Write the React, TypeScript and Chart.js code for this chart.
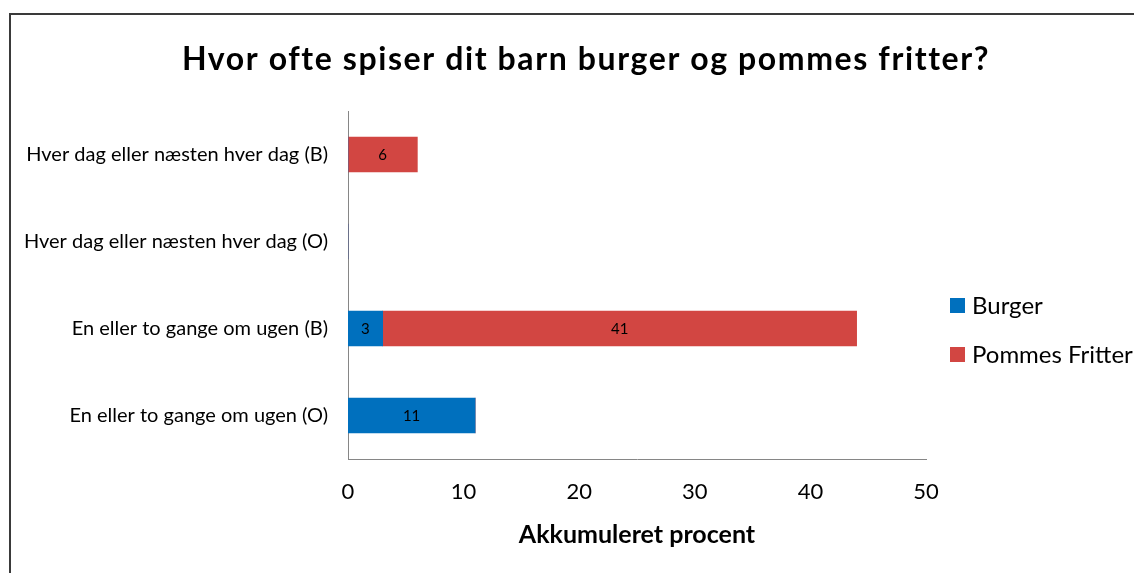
import React, { useEffect, useRef } from "react";
import { Chart, registerables } from "chart.js";

Chart.register(...registerables);

const categories = [
  "Hver dag eller næsten hver dag (B)",
  "Hver dag eller næsten hver dag (O)",
  "En eller to gange om ugen (B)",
  "En eller to gange om ugen (O)",
];
const burger = [0, 0, 3, 11];
const pommes = [6, 0, 41, 0];
const seriesNames = ["Burger", "Pommes Fritter"];
const xTicks = [0, 10, 20, 30, 40, 50];
const titleText = "Hvor ofte spiser dit barn burger og pommes fritter?";
const xTitle = "Akkumuleret procent";

const BLUE = "#0070BE";
const RED = "#D24642";
const FONT = "Lato, 'Open Sans', sans-serif";

const titleDraw = {
  id: "titleDraw",
  afterDraw(chart: any) {
    const ctx = chart.ctx;
    ctx.save();
    ctx.font = `bold 32px ${FONT}`;
    (ctx as any).letterSpacing = "1.6px";
    ctx.fillStyle = "#000";
    ctx.textAlign = "center";
    ctx.textBaseline = "middle";
    ctx.fillText(titleText, 586, 60);
    ctx.restore();
  },
};

const valueLabels = {
  id: "valueLabels",
  afterDatasetsDraw(chart: any) {
    const ctx = chart.ctx;
    ctx.save();
    ctx.font = `15px ${FONT}`;
    ctx.fillStyle = "#000";
    ctx.textAlign = "center";
    ctx.textBaseline = "middle";
    chart.data.datasets.forEach((ds: any, di: number) => {
      const meta = chart.getDatasetMeta(di);
      meta.data.forEach((el: any, i: number) => {
        const v = ds.data[i];
        if (!v) return;
        const p = el.getCenterPoint();
        ctx.fillText(String(v), p.x, p.y + 1);
      });
    });
    ctx.restore();
  },
};

const sideLegend = {
  id: "sideLegend",
  afterDraw(chart: any) {
    const ctx = chart.ctx;
    ctx.save();
    ctx.font = `24px ${FONT}`;
    ctx.textBaseline = "middle";
    ctx.textAlign = "left";
    const ys = [306, 355];
    chart.data.datasets.forEach((ds: any, i: number) => {
      const y = ys[i];
      ctx.fillStyle = ds.backgroundColor;
      ctx.fillRect(950, y - 8, 15, 15);
      ctx.fillStyle = "#000";
      ctx.fillText(ds.label, 972, y);
    });
    ctx.restore();
  },
};

export default function App() {
  const ref = useRef<HTMLCanvasElement>(null);
  useEffect(() => {
    if (!ref.current) return;
    const chart = new Chart(ref.current, {
      type: "bar",
      data: {
        labels: categories,
        datasets: [
          { label: seriesNames[0], data: burger, backgroundColor: BLUE, barThickness: 35 },
          { label: seriesNames[1], data: pommes, backgroundColor: RED, barThickness: 35 },
        ],
      },
      options: {
        responsive: false,
        animation: false,
        indexAxis: "y",
        layout: { padding: { left: 0, right: 244, top: 111, bottom: 0 } },
        plugins: {
          legend: { display: false },
          tooltip: { enabled: false },
          title: { display: false },
        },
        scales: {
          x: {
            stacked: true,
            min: 0,
            max: 50,
            afterBuildTicks(scale: any) {
              scale.ticks = xTicks.map((v) => ({ value: v }));
            },
            afterFit(scale: any) {
              scale.height = 114;
            },
            grid: { display: false, drawTicks: false },
            border: { display: true, color: "#868686", width: 1 },
            ticks: {
              color: "#000",
              font: { family: FONT, size: 22 },
              padding: 20,
              maxRotation: 0,
            },
            title: {
              display: true,
              text: xTitle,
              color: "#000",
              font: { family: FONT, size: 25, weight: "bold" },
              padding: { top: 4, bottom: 23 },
            },
          },
          y: {
            stacked: true,
            afterFit(scale: any) {
              scale.width = 348;
            },
            grid: { display: false, drawTicks: false },
            border: { display: true, color: "#868686", width: 1 },
            ticks: {
              color: "#000",
              font: { family: FONT, size: 20 },
              padding: 20,
            },
          },
        },
      },
      plugins: [valueLabels, sideLegend, titleDraw],
    } as any);
    return () => chart.destroy();
  }, []);

  return (
    <div
      style={{
        position: "fixed",
        left: 0,
        top: 0,
        width: 1134,
        height: 573,
        overflow: "hidden",
        background: "#fff",
      }}
    >
      <canvas
        ref={ref}
        width={1170}
        height={573}
        style={{ position: "absolute", left: 0, top: 0, width: 1170, height: 573 }}
      />
      <div
        style={{
          position: "absolute",
          left: 9,
          top: 13,
          width: 1200,
          height: 620,
          border: "2px solid #3a3a3a",
          pointerEvents: "none",
        }}
      />
    </div>
  );
}
